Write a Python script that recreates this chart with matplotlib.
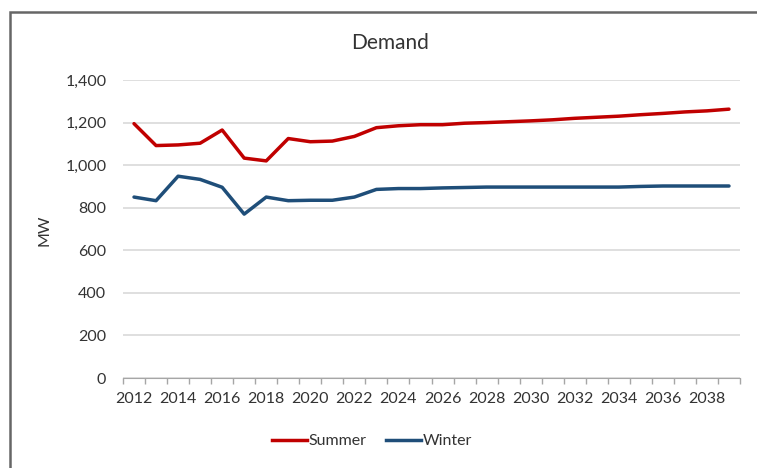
import numpy as np
import matplotlib
matplotlib.use("Agg")
import matplotlib.pyplot as plt
from matplotlib.patches import Rectangle
from matplotlib.lines import Line2D

# ********************************** data *****************************************************************************
years = list(range(2012, 2040))
summer = [1195, 1092, 1095, 1103, 1165, 1033, 1020, 1125, 1110, 1113, 1135, 1176, 1185, 1190,
          1190, 1197, 1200, 1204, 1208, 1213, 1220, 1225, 1230, 1237, 1243, 1250, 1255, 1263]
winter = [850, 833, 948, 933, 896, 770, 850, 833, 835, 835, 850, 886, 890, 890,
          893, 895, 897, 897, 897, 897, 897, 897, 897, 900, 902, 902, 902, 902]
y_ticks = [0, 200, 400, 600, 800, 1000, 1200, 1400]

red = "#C00000"
blue = "#1F4E79"
txt = "#333333"

# ********************************** plot *****************************************************************************
plt.rcParams['font.family'] = ['Lato', 'DejaVu Sans']

W, H = 757, 468
fig = plt.figure(figsize=(W / 100, H / 100), dpi=100)
ax = fig.add_axes([123 / W, 1 - 378 / H, (740 - 123) / W, (378 - 80) / H])

x = np.arange(len(years))
ax.plot(x, summer, color=red, lw=2.5, solid_capstyle='round', label='Summer')
ax.plot(x, winter, color=blue, lw=2.5, solid_capstyle='round', label='Winter')

ax.set_xlim(-0.5, len(years) - 0.5)
ax.set_ylim(0, 1400)
ax.set_yticks(y_ticks)
ax.set_yticklabels([f"{v:,}" for v in y_ticks], fontsize=11.5, color=txt)
ax.tick_params(axis='y', length=0, pad=12)
ax.grid(axis='y', color='#d9d9d9', lw=1.2)
ax.set_axisbelow(True)

ax.set_xticks(x[::2])
ax.set_xticklabels([str(y) for y in years[::2]], fontsize=11.5, color=txt)
ax.set_xticks(np.arange(-0.5, len(years)), minor=True)
ax.tick_params(axis='x', which='major', length=0, pad=10)
ax.tick_params(axis='x', which='minor', length=4, color='#a6a6a6', width=1)

for s in ['top', 'right', 'left']:
    ax.spines[s].set_visible(False)
ax.spines['bottom'].set_color('#a6a6a6')

fig.text(45 / W, 1 - 230 / H, "MW", rotation=90, ha='center', va='center', fontsize=11.5, color=txt)
fig.text(390 / W, 1 - 43 / H, "Demand", ha='center', va='center', fontsize=15, color=txt)

handles = [Line2D([], [], color=red, lw=2.5), Line2D([], [], color=blue, lw=2.5)]
fig.legend(handles, ['Summer', 'Winter'], loc='center', bbox_to_anchor=(372 / W, 1 - 441 / H),
           ncol=2, frameon=False, fontsize=11.5, handlelength=2.2, handletextpad=0.1,
           columnspacing=1.2, labelcolor=txt)

# chart border (cut off on the right and bottom)
fig.patches.append(Rectangle((10 / W, -0.1), 1.2, 1 - 12 / H + 0.1, transform=fig.transFigure,
                             fill=False, edgecolor='#666666', lw=1.8))

fig.savefig("out.png", dpi=100)
